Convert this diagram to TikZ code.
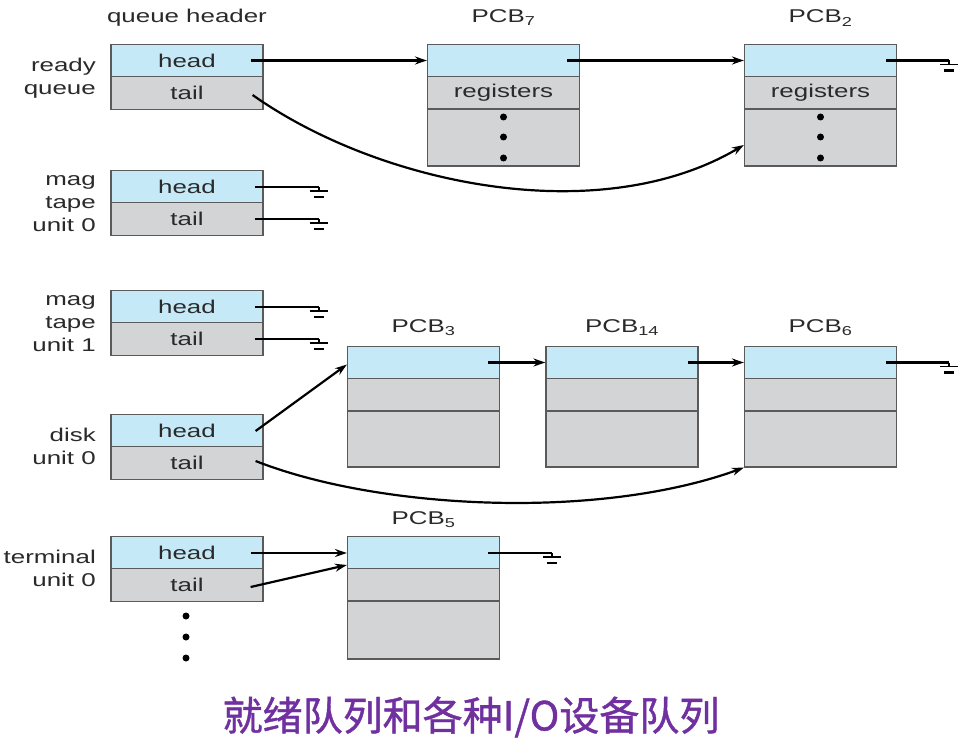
\documentclass[tikz,border=0pt]{standalone}
\usepackage{fontspec}
\setmainfont{Liberation Sans}[FakeStretch=1.4]
\newfontfamily\cjkfont{Noto Sans CJK SC}[FakeBold=1]
\usetikzlibrary{calc,arrows.meta}
\definecolor{cellblue}{HTML}{C6E9F8}
\definecolor{cellgray}{HTML}{D3D4D6}
\definecolor{edgegray}{HTML}{5A5A5A}
\definecolor{txt}{HTML}{2A2A2A}
\definecolor{capt}{HTML}{7030A0}
\newcommand\lblfont{\fontsize{18.5}{23}\selectfont}
\tikzset{
  cell/.style={draw=edgegray, line width=1.2pt, minimum width=152pt, inner sep=0pt, font=\lblfont, text=txt},
  hcell/.style={cell, fill=cellblue, minimum height=32.5pt},
  gcell/.style={cell, fill=cellgray, minimum height=32.5pt},
  bcell/.style={cell, fill=cellgray},
  lbl/.style={font=\lblfont, text=txt, align=right, anchor=east, inner sep=0pt},
  ttl/.style={font=\lblfont, text=txt, inner sep=0pt},
  wire/.style={line width=2.2pt, black},
  arr/.style={wire, -{Stealth[length=12pt,width=8pt]}},
  gnd/.pic={\draw[line width=1.8pt] (0,0)--(0,4) (-9,4)--(9,4); \draw[line width=2.6pt] (-5,10)--(5,10);},
  dot/.style={circle, fill=black, inner sep=0pt, minimum size=7pt}
}
\begin{document}
\begin{tikzpicture}[x=1pt,y=-1pt]
\useasboundingbox[fill=white] (0,0) rectangle (958,746);

% queue headers
\node[ttl] (qh) at (187,18) {queue header};
\node[hcell] (rqh) at (187,60.5) {head};
\node[gcell] (rqt) at (187,93) {tail};
\node[lbl] (rql) at (96,78) {ready\\queue};

\node[hcell] (m0h) at (187,187) {head};
\node[gcell] (m0t) at (187,219) {tail};
\node[lbl] (m0l) at (96,204) {mag\\tape\\unit 0};

\node[hcell] (m1h) at (187,307) {head};
\node[gcell] (m1t) at (187,339) {tail};
\node[lbl] (m1l) at (96,324) {mag\\tape\\unit 1};

\node[hcell] (dh) at (187,431) {head};
\node[gcell] (dt) at (187,463) {tail};
\node[lbl] (dl) at (96,446) {disk\\unit 0};

\node[hcell] (th) at (187,553) {head};
\node[gcell] (tt) at (187,585) {tail};
\node[lbl] (tl) at (96,568) {terminal\\unit 0};

\node[dot] (td1) at (186,616) {};
\node[dot] (td2) at (186,637) {};
\node[dot] (td3) at (186,658) {};

% PCB7
\node[ttl] (p7l) at (503.5,18) {PCB\textsubscript{7}};
\node[hcell] (p7h) at (503.5,60.5) {};
\node[gcell] (p7r) at (503.5,93) {registers};
\node[bcell, minimum height=57pt] (p7b) at (503.5,137.5) {};
\node[dot] (p7d1) at (503.5,117) {};
\node[dot] (p7d2) at (503.5,137) {};
\node[dot] (p7d3) at (503.5,158) {};

% PCB2
\node[ttl] (p2l) at (820.5,18) {PCB\textsubscript{2}};
\node[hcell] (p2h) at (820.5,60.5) {};
\node[gcell] (p2r) at (820.5,93) {registers};
\node[bcell, minimum height=57pt] (p2b) at (820.5,137.5) {};
\node[dot] (p2d1) at (820.5,117) {};
\node[dot] (p2d2) at (820.5,137) {};
\node[dot] (p2d3) at (820.5,158) {};

% PCB3
\node[ttl] (p3l) at (423.5,328) {PCB\textsubscript{3}};
\node[hcell] (p3h) at (423.5,362.5) {};
\node[gcell] (p3g) at (423.5,395) {};
\node[bcell, minimum height=56pt] (p3b) at (423.5,439) {};

% PCB14
\node[ttl] (p14l) at (622,328) {PCB\textsubscript{14}};
\node[hcell] (p14h) at (622,362.5) {};
\node[gcell] (p14g) at (622,395) {};
\node[bcell, minimum height=56pt] (p14b) at (622,439) {};

% PCB6
\node[ttl] (p6l) at (820.5,328) {PCB\textsubscript{6}};
\node[hcell] (p6h) at (820.5,362.5) {};
\node[gcell] (p6g) at (820.5,395) {};
\node[bcell, minimum height=56pt] (p6b) at (820.5,439) {};

% PCB5
\node[ttl] (p5l) at (423.5,520) {PCB\textsubscript{5}};
\node[hcell] (p5h) at (423.5,553) {};
\node[gcell] (p5g) at (423.5,585) {};
\node[bcell, minimum height=58pt] (p5b) at (423.5,630) {};

% connectors
\draw[arr] ($(rqh.east)+(-13,0)$) -- (p7h.west);
\draw[arr] ($(p7h.east)+(-13,0)$) -- (p2h.west);
\draw[wire] ($(p2h.east)+(-11,0)$) -- ++(63,0) coordinate (g2);
\pic at (g2) {gnd};
\draw[arr] ($(rqt.east)+(-11,2)$) .. controls (380,185) and (600,230) .. ($(p2b.west)+(0,7.5)$);

\draw[wire] ($(m0h.east)+(-9,0)$) -- ++(64,0) coordinate (g3);
\pic at (g3) {gnd};
\draw[wire] ($(m0t.east)+(-9,0)$) -- ++(64,0) coordinate (g4);
\pic at (g4) {gnd};
\draw[wire] ($(m1h.east)+(-9,0)$) -- ++(64,0) coordinate (g5);
\pic at (g5) {gnd};
\draw[wire] ($(m1t.east)+(-9,0)$) -- ++(64,0) coordinate (g6);
\pic at (g6) {gnd};

\draw[arr] ($(dh.east)+(-8,0)$) -- ($(p3h.west)+(0,2)$);
\draw[arr] ($(p3h.east)+(-12,0)$) -- (p14h.west);
\draw[arr] ($(p14h.east)+(-11,0)$) -- (p6h.west);
\draw[wire] ($(p6h.east)+(-11,0)$) -- ++(63,0) coordinate (g7);
\pic at (g7) {gnd};
\draw[arr] ($(dt.east)+(-8,-2)$) .. controls (380,510) and (600,520) .. (p6b.south west);

\draw[arr] ($(th.east)+(-13,0)$) -- (p5h.west);
\draw[arr] ($(tt.east)+(-13,2)$) -- ($(p5h.west)+(0,12)$);
\draw[wire] ($(p5h.east)+(-12,0)$) -- ++(64,0) coordinate (g8);
\pic at (g8) {gnd};

% caption
\node[font=\cjkfont\fontsize{40}{44}\selectfont, text=capt, inner sep=0pt] (cap) at (471,717) {就绪队列和各种I/O设备队列};
\end{tikzpicture}
\end{document}
